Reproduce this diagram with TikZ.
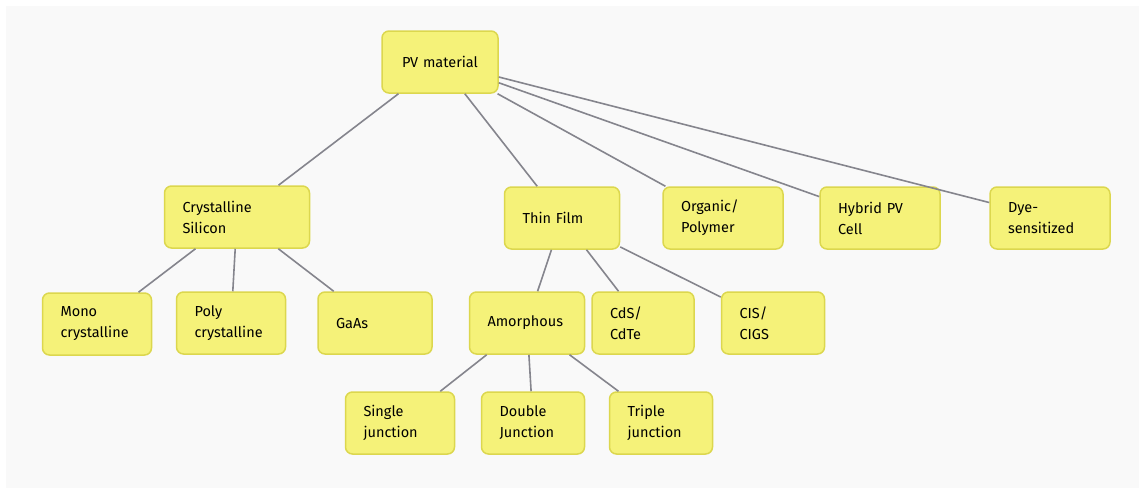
\documentclass[tikz,border=0pt]{standalone}
\usepackage{fontspec}
\setmainfont{Fira Sans}
\usetikzlibrary{positioning}
\definecolor{pvfill}{HTML}{F5F279}
\definecolor{pvedge}{HTML}{DCD74E}
\definecolor{pvline}{HTML}{85858D}
\definecolor{pvback}{HTML}{F9F9F9}
\tikzset{
	pvbox/.style = {draw=pvedge, fill=pvfill, line width=1.5pt, rounded corners=7pt,
		minimum height=62pt, inner xsep=18pt, text width=#1, align=left,
		font=\fontsize{14.5}{21}\selectfont},
	pvlink/.style = {pvline, line width=1.6pt},
}

\begin{document}
\begin{tikzpicture}[x=1pt, y=-1pt]
	\useasboundingbox (0,0) rectangle (1139,490);
	\fill[white] (0,0) rectangle (1139,490);
	\fill[pvback] (6,6) rectangle (1139,488);
	% root and first level
	\node[pvbox=80pt, align=center] (pv) at (440,62) {PV material};
	\node[pvbox=109pt] (csi) at (237,217) {Crystalline\\Silicon};
	\node[pvbox=79pt] (thin) at (562,218) {Thin Film};
	\node[pvbox=84pt] (org) at (723,218) {Organic/\\Polymer};
	\node[pvbox=84pt] (hyb) at (880,218) {Hybrid PV\\Cell};
	\node[pvbox=84pt] (dye) at (1050,218) {Dye-\\sensitized};
	% second level
	\node[pvbox=73pt] (mono) at (97,324) {Mono\\crystalline};
	\node[pvbox=73pt] (poly) at (231,323) {Poly\\crystalline};
	\node[pvbox=78pt] (gaas) at (375,323) {GaAs};
	\node[pvbox=79pt] (amor) at (527,323) {Amorphous};
	\node[pvbox=66pt] (cds) at (643,323) {CdS/\\CdTe};
	\node[pvbox=67pt] (cis) at (773,323) {CIS/\\CIGS};
	% third level
	\node[pvbox=73pt] (single) at (400,423) {Single\\junction};
	\node[pvbox=67pt] (double) at (533,423) {Double\\Junction};
	\node[pvbox=67pt] (triple) at (661,423) {Triple\\junction};
	% links
	\foreach \a/\b in {pv/csi, pv/thin, pv/org, pv/hyb, pv/dye,
		csi/mono, csi/poly, csi/gaas,
		thin/amor, thin/cds, thin/cis,
		amor/single, amor/double, amor/triple}
		\draw[pvlink] (\a) -- (\b);
\end{tikzpicture}
\end{document}
